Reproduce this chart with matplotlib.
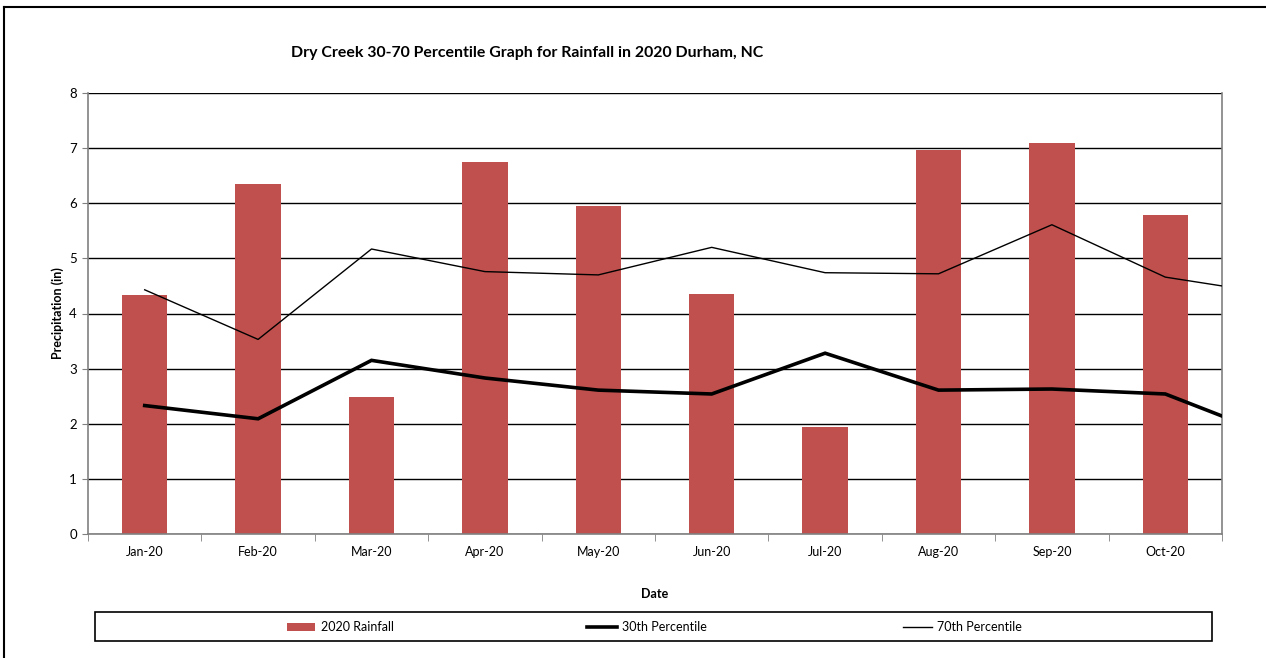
import matplotlib
matplotlib.use("Agg")
import matplotlib.pyplot as plt
from matplotlib.lines import Line2D
from matplotlib.patches import Rectangle
import numpy as np

plt.rcParams['font.family'] = ['Lato', 'DejaVu Sans']

months = ["Jan-20", "Feb-20", "Mar-20", "Apr-20", "May-20", "Jun-20",
          "Jul-20", "Aug-20", "Sep-20", "Oct-20"]
rainfall_2020 = [4.34, 6.35, 2.49, 6.75, 5.95, 4.35, 1.94, 6.97, 7.09, 5.79]
# percentile series include a trailing November point, clipped by the axis
pct30 = [2.33, 2.09, 3.15, 2.83, 2.61, 2.54, 3.28, 2.61, 2.63, 2.54, 1.74]
pct70 = [4.43, 3.53, 5.17, 4.76, 4.70, 5.20, 4.74, 4.72, 5.61, 4.66, 4.34]
yticks = [0, 1, 2, 3, 4, 5, 6, 7, 8]

title = "Dry Creek 30-70 Percentile Graph for Rainfall in 2020 Durham, NC"
bar_color = "#C0504D"

W, H = 1266, 658
fig = plt.figure(figsize=(W / 100, H / 100), dpi=100)
ax = fig.add_axes([88 / W, (H - 534) / H, (1222 - 88) / W, (534 - 93) / H])

x = np.arange(len(months))
xl = np.arange(len(pct30))
ax.bar(x, rainfall_2020, width=0.4, color=bar_color, zorder=2)
ax.plot(xl, pct30, color="black", lw=2.6, zorder=3, solid_joinstyle="miter")
ax.plot(xl, pct70, color="black", lw=1.0, zorder=3)

ax.set_xlim(-0.5, len(months) - 0.5)
ax.set_ylim(0, 8)
ax.set_yticks(yticks)
ax.yaxis.grid(True, color="black", lw=1.0, zorder=1)
ax.set_axisbelow(True)
ax.set_xticks(x)
ax.set_xticklabels(months, fontsize=9)
ax.tick_params(axis="x", length=0, pad=9)
ax.set_xticks(np.arange(-0.5, len(months), 1.0), minor=True)
ax.tick_params(axis="x", which="minor", length=5, color="#808080", direction="out")
ax.tick_params(axis="y", length=4, color="#808080", labelsize=9.5, pad=4)

for s in ["left", "bottom", "right"]:
    ax.spines[s].set_color("#808080")
    ax.spines[s].set_linewidth(1.2)
ax.spines["top"].set_visible(False)

ax.set_ylabel("Precipitation (in)", fontsize=9, fontweight="bold", labelpad=4)
ax.set_xlabel("Date", fontsize=9, fontweight="bold", labelpad=21)

fig.text(527 / W, 1 - 53 / H, title, fontsize=11.4, fontweight="bold",
         ha="center", va="center")

# legend box
fig.patches.append(Rectangle((95 / W, 1 - 641 / H), (1212 - 95) / W, (641 - 612) / H,
                             transform=fig.transFigure, facecolor="white",
                             edgecolor="black", lw=1.2))
ly = 1 - 627 / H
fig.patches.append(Rectangle((287 / W, 1 - 631 / H), 28 / W, 8 / H,
                             transform=fig.transFigure, facecolor=bar_color, edgecolor="none"))
fig.text(321 / W, ly, "2020 Rainfall", fontsize=9, va="center", ha="left")
fig.lines.append(Line2D([587 / W, 617 / W], [ly, ly], transform=fig.transFigure,
                        color="black", lw=2.6))
fig.text(622 / W, ly, "30th Percentile", fontsize=9, va="center", ha="left")
fig.lines.append(Line2D([903 / W, 932 / W], [ly, ly], transform=fig.transFigure,
                        color="black", lw=1.0))
fig.text(937 / W, ly, "70th Percentile", fontsize=9, va="center", ha="left")

# outer chart frame (cut off at right and bottom)
fig.lines.append(Line2D([4 / W, 1], [1 - 7 / H, 1 - 7 / H], transform=fig.transFigure,
                        color="black", lw=1.5))
fig.lines.append(Line2D([4 / W, 4 / W], [0, 1 - 7 / H], transform=fig.transFigure,
                        color="black", lw=1.5))

fig.savefig("out.png", dpi=100)
